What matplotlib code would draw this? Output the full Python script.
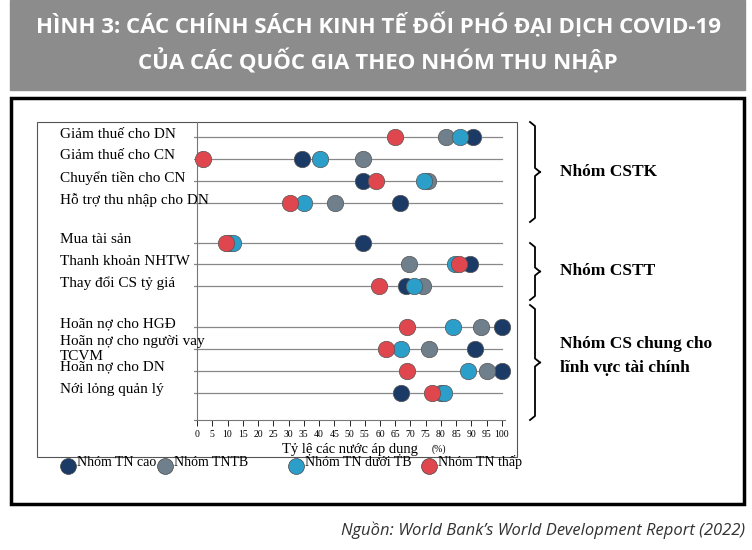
import matplotlib.pyplot as plt
from matplotlib.patches import Rectangle

# ---- data ----
policies = ['Giảm thuế cho DN', 'Giảm thuế cho CN', 'Chuyển tiền cho CN', 'Hỗ trợ thu nhập cho DN',
            'Mua tài sản', 'Thanh khoản NHTW', 'Thay đổi CS tỷ giá',
            'Hoãn nợ cho HGĐ', 'Hoãn nợ cho người vay\nTCVM', 'Hoãn nợ cho DN', 'Nới lỏng quản lý']
row_pos = [0, 1, 2, 3, 4.8, 5.8, 6.8, 8.65, 9.65, 10.65, 11.65]

series = ['Nhóm TN cao', 'Nhóm TNTB', 'Nhóm TN dưới TB', 'Nhóm TN thấp']
high = [90.5, 34.5, 54.4, 66.4, 54.4, 89.6, 68.4, 100, 91, 100, 67]
upper_mid = [81.8, 54.4, 75.9, 45.3, 10.5, 69.4, 74.2, 93, 76, 95, 80]
lower_mid = [86.3, 40.4, 74.3, 35.2, 11.7, 84.7, 71.3, 84, 67, 89, 81]
low = [65, 2, 58.6, 30.6, 9.4, 86, 59.6, 69, 62, 69, 77]
colors = ['#1b3a66', '#6f7f8b', '#2b9fc9', '#e0464d']

groups = ['Nhóm CSTK', 'Nhóm CSTT', 'Nhóm CS chung cho\nlĩnh vực tài chính']
x_ticks = list(range(0, 101, 5))

W, H = 752, 550
fig = plt.figure(figsize=(W / 100, H / 100), dpi=100)
serif = 'Liberation Serif'

# overlay axes in pixel coords for decorations
deco = fig.add_axes([0, 0, 1, 1])
deco.set_xlim(0, W)
deco.set_ylim(H, 0)
deco.axis('off')
deco.add_patch(Rectangle((10, 0), 735, 90, color='#8c8c8c', zorder=0))
deco.text(378, 26, 'HÌNH 3: CÁC CHÍNH SÁCH KINH TẾ ĐỐI PHÓ ĐẠI DỊCH COVID-19',
          ha='center', va='center', color='white', fontsize=16, fontweight='bold', family='Open Sans')
deco.text(378, 62, 'CỦA CÁC QUỐC GIA THEO NHÓM THU NHẬP',
          ha='center', va='center', color='white', fontsize=16, fontweight='bold', family='Open Sans')
deco.add_patch(Rectangle((11, 98), 733, 406, fill=False, lw=2.5, ec='black'))
deco.add_patch(Rectangle((37, 122), 480, 335, fill=False, lw=0.8, ec='#555555'))
deco.text(745, 530, 'Nguồn: World Bank’s World Development Report (2022)', ha='right', va='center',
          fontsize=12, style='italic', family='Open Sans', color='#333333')


def brace(x, y0, y1):
    ym = (y0 + y1) / 2
    w = 10
    deco.plot([x, x + w * 0.5, x + w * 0.5, x + w], [y0, y0 + 4, ym - 4, ym], color='black', lw=1.3)
    deco.plot([x, x + w * 0.5, x + w * 0.5, x + w], [y1, y1 - 4, ym + 4, ym], color='black', lw=1.3)


brace(530, 122, 222)
brace(530, 243, 300)
brace(530, 305, 420)
deco.text(560, 172, groups[0], va='center', fontsize=12.5, fontweight='bold', family=serif)
deco.text(560, 271, groups[1], va='center', fontsize=12.5, fontweight='bold', family=serif)
deco.text(560, 356, groups[2], va='center', fontsize=12.5, fontweight='bold', family=serif,
          linespacing=1.7)

# legend
leg_x = [68, 165, 296, 429]
for lx, name, c in zip(leg_x, series, colors):
    deco.scatter([lx], [466], s=130, color=c, edgecolor='#444444', lw=0.5, zorder=3)
    deco.text(lx + 9, 462, name, va='center', fontsize=10, family=serif)

# main plot
ax = fig.add_axes([194 / W, 1 - 420 / H, 311 / W, (420 - 122) / H])
for y in row_pos:
    ax.plot([-1, 100], [y, y], color='#888888', lw=0.9, zorder=1)
for vals, c in zip([high, upper_mid, lower_mid, low], colors):
    ax.scatter(vals, row_pos, s=140, color=c, edgecolor='#555555', lw=0.5, zorder=3, clip_on=False)
for y, lab in zip(row_pos, policies):
    ax.text(-45, y if '\n' in lab else y - 0.15, lab, ha='left', va='center',
            fontsize=11, family=serif, linespacing=1.15)
ax.set_xlim(-1, 101)
ax.set_ylim(12.9, -0.7)
ax.set_xticks(x_ticks)
ax.set_xticklabels([str(t) for t in x_ticks], fontsize=7, family=serif)
ax.tick_params(axis='x', length=4, width=0.6, pad=3)
ax.set_yticks([])
for s in ['top', 'right']:
    ax.spines[s].set_visible(False)
ax.spines['left'].set_position(('data', 0))
ax.spines['left'].set_color('#777777')
ax.spines['bottom'].set_color('#777777')
ax.patch.set_alpha(0)
ax.set_xlabel('Tỷ lệ các nước áp dụng', fontsize=10.5, family=serif, labelpad=3)
ax.text(77, 14.35, '(%)', fontsize=7, family=serif)

fig.savefig('out.png', dpi=100)
